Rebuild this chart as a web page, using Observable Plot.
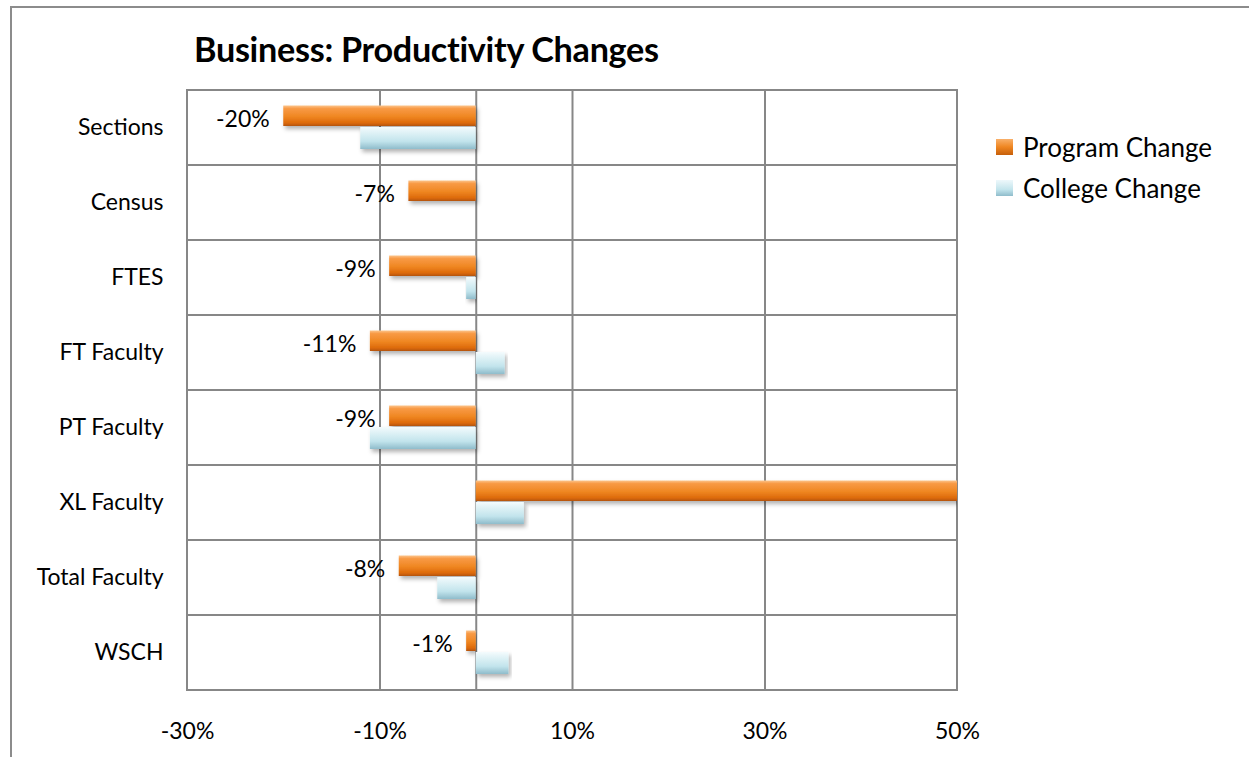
<!DOCTYPE html>
<html>
<head>
<meta charset="utf-8">
<script src="https://cdn.jsdelivr.net/npm/d3@7"></script>
<script src="https://cdn.jsdelivr.net/npm/@observablehq/plot@0.6"></script>
<style>
  html, body { margin: 0; padding: 0; background: #fff; }
  body { width: 1249px; height: 757px; position: relative; overflow: hidden; font-family: Lato, "Open Sans", sans-serif; }
  #border { position: absolute; left: 10px; top: 6px; width: 1300px; height: 800px; border-left: 2px solid #8c8c8c; border-top: 2px solid #8c8c8c; }
  #chart { position: absolute; left: 0; top: 0; }
  #title { position: absolute; left: 194px; top: 28px; font-size: 34.2px; font-weight: bold; color: #000; white-space: nowrap; letter-spacing: -0.3px; }
  #legend { position: absolute; left: 996px; top: 126px; font-size: 26px; color: #000; }
  #legend .item { display: flex; align-items: center; height: 41px; }
  #legend .sw { width: 17px; height: 16px; margin-right: 10px; box-sizing: border-box; }
</style>
</head>
<body>
<div id="border"></div>
<div id="chart"></div>
<div id="title">Business: Productivity Changes</div>
<div id="legend"></div>
<script>
const categories = ["Sections", "Census", "FTES", "FT Faculty", "PT Faculty", "XL Faculty", "Total Faculty", "WSCH"];
const programChange = [-20, -7, -9, -11, -9, 60, -8, -1];
const collegeChange = [-12, 0, -1, 3, -11, 5, -4, 3.4];
const programLabels = ["-20%", "-7%", "-9%", "-11%", "-9%", "", "-8%", "-1%"];
const xTicks = [-30, -10, 10, 30, 50];
const seriesNames = ["Program Change", "College Change"];

const rows = categories.map((c, i) => ({cat: c, program: programChange[i], college: collegeChange[i], label: programLabels[i]}));
const gridColor = "#878787";

const svg = Plot.plot({
  width: 1249,
  height: 757,
  marginLeft: 187,
  marginRight: 292,
  marginTop: 89,
  marginBottom: 67,
  style: {fontFamily: "Lato, 'Open Sans', sans-serif", fontSize: "23px", color: "#000", background: "transparent"},
  x: {domain: [-30, 50], ticks: xTicks, tickFormat: d => d + "%", tickSize: 0, tickPadding: 32, label: null},
  y: {domain: categories, padding: 0, tickSize: 0, tickPadding: 24, label: null},
  marks: [
    Plot.barX(categories, {x1: -30, x2: 50, y: d => d, fill: "none", stroke: gridColor, strokeWidth: 2}),
    Plot.ruleX(xTicks.filter(t => t > -30 && t < 50), {stroke: gridColor, strokeWidth: 2}),
    Plot.ruleX([0], {stroke: gridColor, strokeWidth: 2}),
    Plot.barX(rows, {x: "program", y: "cat", insetTop: 15.5, insetBottom: 39, fill: "url(#gradO)", clip: true}),
    Plot.barX(rows, {x: "college", y: "cat", insetTop: 37, insetBottom: 16, fill: "url(#gradB)", clip: true}),
    Plot.text(rows, {x: "program", y: "cat", text: "label", textAnchor: "end", dx: -14, dy: -8, clip: true, fill: "#000"})
  ]
});

// gradients & shadow
const NS = "http://www.w3.org/2000/svg";
const defs = document.createElementNS(NS, "defs");
defs.innerHTML = `
  <linearGradient id="gradO" x1="0" y1="0" x2="0" y2="1">
    <stop offset="0" stop-color="#fcc48a"/>
    <stop offset="0.15" stop-color="#f89a45"/>
    <stop offset="0.55" stop-color="#ef8621"/>
    <stop offset="0.85" stop-color="#dd6a0c"/>
    <stop offset="1" stop-color="#b4540b"/>
  </linearGradient>
  <linearGradient id="gradB" x1="0" y1="0" x2="0" y2="1">
    <stop offset="0" stop-color="#f4fbfd"/>
    <stop offset="0.25" stop-color="#e0f2f6"/>
    <stop offset="0.65" stop-color="#c2e4ec"/>
    <stop offset="1" stop-color="#8fbccb"/>
  </linearGradient>
  <filter id="shadow" x="-10%" y="-40%" width="120%" height="200%">
    <feDropShadow dx="2" dy="3" stdDeviation="2" flood-color="#000" flood-opacity="0.3"/>
  </filter>`;
svg.insertBefore(defs, svg.firstChild);
document.getElementById("chart").appendChild(svg);

// soft drop shadow under the data bars (program and college groups)
const barGroups = svg.querySelectorAll("g[aria-label='bar']");
for (let i = 1; i < barGroups.length; i++) {
  barGroups[i].querySelectorAll("rect").forEach(r => r.setAttribute("filter", "url(#shadow)"));
}

// legend
const legend = document.getElementById("legend");
const swFills = ["linear-gradient(#f9b06a, #ef8621 50%, #c65f0b)", "linear-gradient(#eef8fb, #c2e4ec 60%, #8fbccb)"];
seriesNames.forEach((name, i) => {
  const item = document.createElement("div");
  item.className = "item";
  const sw = document.createElement("div");
  sw.className = "sw";
  sw.style.background = swFills[i];
  const t = document.createElement("span");
  t.textContent = name;
  item.appendChild(sw); item.appendChild(t);
  legend.appendChild(item);
});
</script>
</body>
</html>
